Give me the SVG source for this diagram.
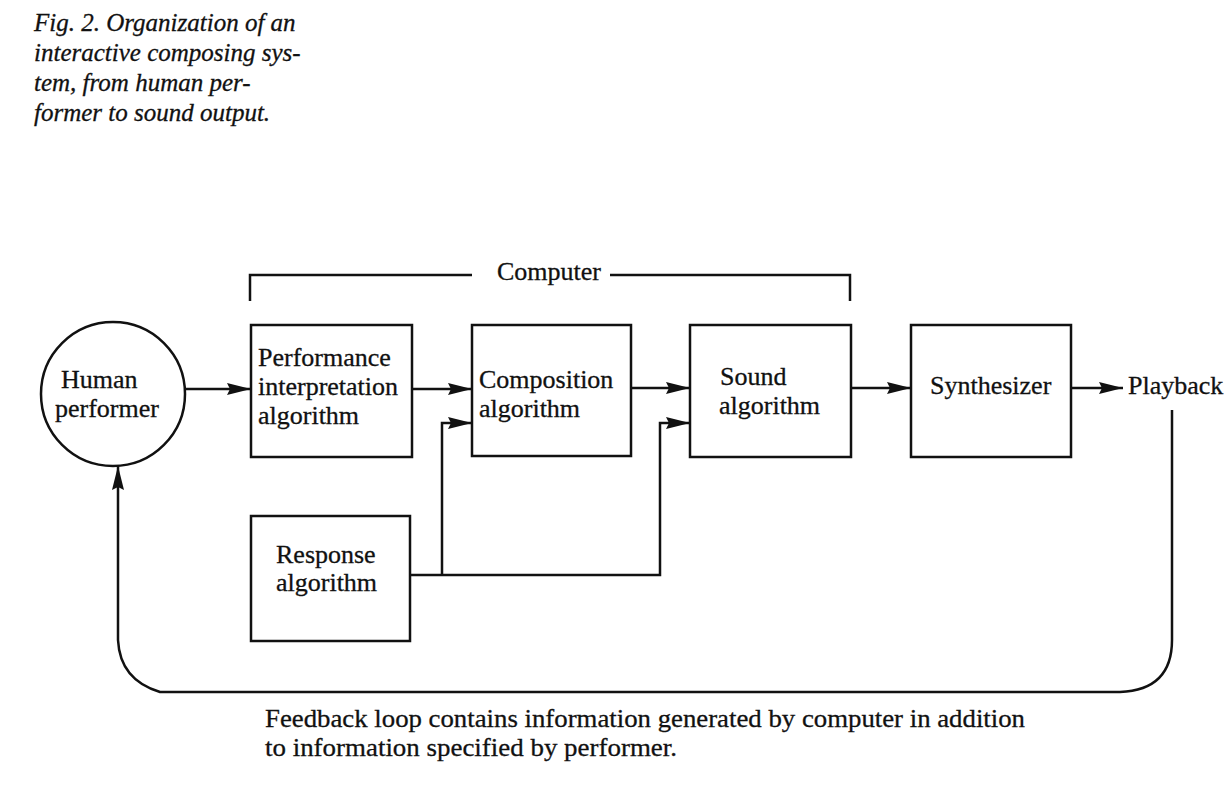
<svg xmlns="http://www.w3.org/2000/svg" width="1231" height="799" viewBox="0 0 1231 799">
<defs>
<style>
.t{font-family:"Liberation Serif","Times New Roman",serif;font-size:26px;fill:#111;stroke:#111;stroke-width:0.3}
.cap{font-family:"Liberation Serif","Times New Roman",serif;font-style:italic;font-size:25px;fill:#111;stroke:#111;stroke-width:0.3}
.box{fill:none;stroke:#111;stroke-width:2.5}
.ln{fill:none;stroke:#111;stroke-width:2.5}
</style>
<marker id="ah" viewBox="0 0 24 12" refX="24" refY="6" markerWidth="24" markerHeight="12" markerUnits="userSpaceOnUse" orient="auto">
<path d="M0,0 L24,6 L0,12 L3,6 Z" fill="#111"/>
</marker>
</defs>
<rect width="1231" height="799" fill="#fff"/>
<g id="title">
<text class="cap" x="34" y="31">Fig. 2. Organization of an</text>
<text class="cap" x="34" y="61">interactive composing sys-</text>
<text class="cap" x="34" y="91">tem, from human per-</text>
<text class="cap" x="34" y="121">former to sound output.</text>
</g>
<g id="computer">
<path class="ln" d="M250,301 V275 H472 M610,275 H850 V301"/>
<text class="t" x="549" y="280" text-anchor="middle">Computer</text>
</g>
<g id="human">
<circle class="box" cx="113" cy="394" r="72"/>
<text class="t" x="61" y="388">Human</text>
<text class="t" x="55" y="417">performer</text>
</g>
<g id="perf">
<rect class="box" x="251" y="325" width="161" height="132"/>
<text class="t" x="258" y="366">Performance</text>
<text class="t" x="258" y="395">interpretation</text>
<text class="t" x="258" y="424">algorithm</text>
</g>
<g id="comp">
<rect class="box" x="472" y="325" width="159" height="131"/>
<text class="t" x="479" y="388">Composition</text>
<text class="t" x="479" y="417">algorithm</text>
</g>
<g id="sound">
<rect class="box" x="690" y="325" width="161" height="132"/>
<text class="t" x="720" y="385">Sound</text>
<text class="t" x="719" y="414">algorithm</text>
</g>
<g id="synth">
<rect class="box" x="911" y="325" width="160" height="132"/>
<text class="t" x="930" y="394">Synthesizer</text>
</g>
<g id="response">
<rect class="box" x="251" y="516" width="159" height="125"/>
<text class="t" x="276" y="563">Response</text>
<text class="t" x="276" y="591">algorithm</text>
</g>
<g id="playback">
<text class="t" x="1128" y="394">Playback</text>
</g>
<g id="connectors">
<path class="ln" d="M185,389 H251" marker-end="url(#ah)"/>
<path class="ln" d="M412,389 H472" marker-end="url(#ah)"/>
<path class="ln" d="M631,388 H690" marker-end="url(#ah)"/>
<path class="ln" d="M851,388 H911" marker-end="url(#ah)"/>
<path class="ln" d="M1071,388 H1123" marker-end="url(#ah)"/>
<path class="ln" d="M410,575 H660 V423 H690" marker-end="url(#ah)"/>
<path class="ln" d="M442,575 V423 H472" marker-end="url(#ah)"/>
<path class="ln" d="M1172,410 V640 Q1172,690 1120,692 H160 Q120,680 118,640 V466" marker-end="url(#ah)"/>
</g>
<g id="caption">
<text class="t" x="265" y="727" textLength="760" lengthAdjust="spacingAndGlyphs">Feedback loop contains information generated by computer in addition</text>
<text class="t" x="265" y="756" textLength="412" lengthAdjust="spacingAndGlyphs">to information specified by performer.</text>
</g>
</svg>
